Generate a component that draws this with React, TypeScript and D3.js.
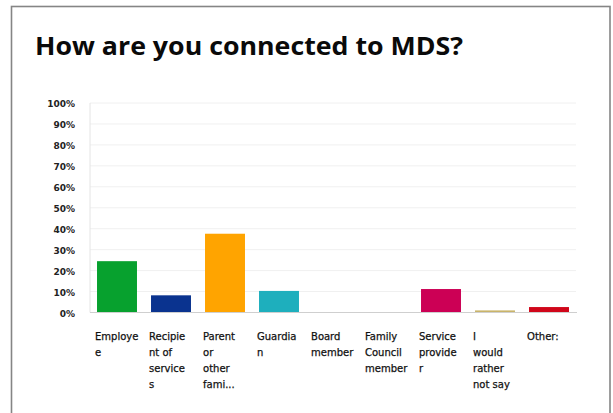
import React from 'react';
import * as d3 from 'd3';

// Survey answers (percent of respondents)
const categories = [
  'Employee',
  'Recipient of services',
  'Parent or other family',
  'Guardian',
  'Board member',
  'Family Council member',
  'Service provider',
  'I would rather not say',
  'Other:',
];
const shares = [24.5, 8.2, 37.6, 10.3, 0, 0, 11.2, 1.0, 2.6];
const barColors = ['#07a12e', '#0a338f', '#ffa400', '#1eafbd', '#cccccc', '#cccccc', '#cc0055', '#c9b46a', '#d0061a'];
// wrapped tick labels as they appear under each bar
const tickLines = [
  ['Employe', 'e'],
  ['Recipie', 'nt of', 'service', 's'],
  ['Parent', 'or', 'other', 'fami...'],
  ['Guardia', 'n'],
  ['Board', 'member'],
  ['Family', 'Council', 'member'],
  ['Service', 'provide', 'r'],
  ['I', 'would', 'rather', 'not say'],
  ['Other:'],
];
const yTicks = [0, 10, 20, 30, 40, 50, 60, 70, 80, 90, 100];

const W = 613;
const H = 413;
const left = 90;
const right = 576;
const top = 103;
const bottom = 312.5;

const App: React.FC = () => {
  const x = d3.scaleBand<string>()
    .domain(categories)
    .range([left, right])
    .paddingInner(0.26)
    .paddingOuter(0.13);

  const y = d3.scaleLinear().domain([0, 100]).range([bottom, top]);

  return (
    <svg width={W} height={H} style={{ position: 'absolute', left: 0, top: 0, background: '#fff' }}>
      <rect x={11.5} y={6.5} width={598.5} height={420} fill="#fff" stroke="#858585" strokeWidth={1.6} />

      <text
        x={35}
        y={55}
        textLength={428}
        lengthAdjust="spacingAndGlyphs"
        style={{ fontFamily: '"Open Sans", sans-serif', fontWeight: 700, fontSize: '25px', fill: '#0a0a0a' }}
      >
        How are you connected to MDS?
      </text>

      {/* gridlines */}
      {yTicks.map(t => (
        <line key={`g${t}`} x1={left} x2={right} y1={y(t)} y2={y(t)} stroke="#f0f0f0" strokeWidth={1} />
      ))}

      {/* y axis labels */}
      {yTicks.map(t => (
        <text
          key={`t${t}`}
          x={75}
          y={y(t) + 1}
          dy="0.35em"
          textAnchor="end"
          style={{ fontFamily: '"DejaVu Sans", sans-serif', fontWeight: 700, fontSize: '9px', fill: '#222' }}
        >
          {`${t}%`}
        </text>
      ))}

      {/* bars */}
      {categories.map((c, i) => (
        <rect
          key={c}
          x={x(c)}
          y={y(shares[i])}
          width={x.bandwidth()}
          height={bottom - y(shares[i])}
          fill={barColors[i]}
        />
      ))}

      {/* axis lines */}
      <line x1={left} x2={left} y1={top} y2={bottom} stroke="#e4e4e4" strokeWidth={1} />
      <line x1={left} x2={right + 1} y1={bottom} y2={bottom} stroke="#cfcfcf" strokeWidth={1} />

      {/* category labels */}
      {categories.map((c, i) => (
        <text
          key={`l${c}`}
          x={(x(c) ?? 0) - 2}
          y={340}
          style={{ fontFamily: '"DejaVu Sans", sans-serif', fontSize: '10px', fill: '#111', stroke: '#111', strokeWidth: 0.25 }}
        >
          {tickLines[i].map((line, j) => (
            <tspan key={j} x={(x(c) ?? 0) - 2} dy={j === 0 ? 0 : 16}>{line}</tspan>
          ))}
        </text>
      ))}
    </svg>
  );
};

export default App;
